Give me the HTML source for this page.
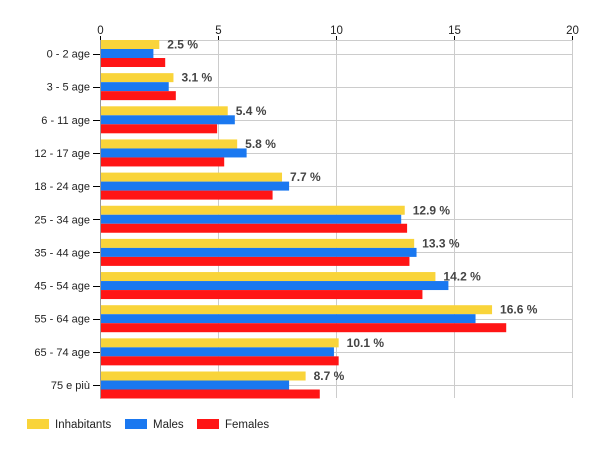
<!DOCTYPE html>
<html><head><meta charset="utf-8"><style>body{margin:0;background:#fff}</style></head><body>
<svg width="600" height="450" xmlns="http://www.w3.org/2000/svg" font-family="Liberation Sans, Arial, sans-serif" font-size="11">
<rect width="600" height="450" fill="#fff"/>
<g id="grid" stroke="#cccccc" stroke-width="1"></g>
<g id="bars"></g>
<g id="txt"></g>
<g font-size="11.5" fill="#222">
<rect x="27" y="419" width="22" height="10" fill="#f9d43a"/><text x="55" y="428">Inhabitants</text>
<rect x="125" y="419" width="22" height="10" fill="#1a78f0"/><text x="153" y="428">Males</text>
<rect x="197" y="419" width="22" height="10" fill="#ff1515"/><text x="225" y="428">Females</text>
</g>
</svg>
<script>
const ns="http://www.w3.org/2000/svg";
function el(p,t,a,txt){const e=document.createElementNS(ns,t);for(const k in a)e.setAttribute(k,a[k]);if(txt!==undefined)e.textContent=txt;document.getElementById(p).appendChild(e);return e;}
const X=v=>100.3+23.6*v;
const cats=["0 - 2 age","3 - 5 age","6 - 11 age","12 - 17 age","18 - 24 age","25 - 34 age","35 - 44 age","45 - 54 age","55 - 64 age","65 - 74 age","75 e più"];
const d=[[2.5,2.25,2.75],[3.1,2.9,3.2],[5.4,5.7,4.95],[5.8,6.2,5.25],[7.7,8.0,7.3],[12.9,12.75,13.0],[13.3,13.4,13.1],[14.2,14.75,13.65],[16.6,15.9,17.2],[10.1,9.9,10.1],[8.7,8.0,9.3]];
const cols=["#f9d43a","#1a78f0","#ff1515"];
el("grid","line",{x1:100,x2:573,y1:40.5,y2:40.5});
for(let i=0;i<=4;i++){const x=Math.round(X(i*5))+0.5;el("grid","line",{x1:x,x2:x,y1:40,y2:398});
el("txt","line",{x1:x,x2:x,y1:36,y2:40,stroke:"#000"});
el("txt","text",{x:x,y:34,"text-anchor":"middle",fill:"#222","font-size":"11.5"},String(i*5));}
cats.forEach((c,i)=>{const cy=53.5+33.15*i;
el("grid","line",{x1:100,x2:573,y1:Math.round(cy)+0.5,y2:Math.round(cy)+0.5});
d[i].forEach((v,j)=>el("bars","rect",{x:100,y:cy-13.5+9*j,width:X(v)-100,height:9,fill:cols[j]}));
el("txt","line",{x1:93,x2:100,y1:Math.round(cy)+0.5,y2:Math.round(cy)+0.5,stroke:"#000"});
el("txt","text",{x:90,y:cy+4,"text-anchor":"end",fill:"#222"},c);
el("txt","text",{x:X(d[i][0])+8,y:cy-5,fill:"#444","font-weight":"bold","font-size":"12"},d[i][0].toFixed(1)+" %");
});
el("txt","line",{x1:100.5,x2:100.5,y1:40,y2:398,stroke:"#999"});
</script>
</body></html>
